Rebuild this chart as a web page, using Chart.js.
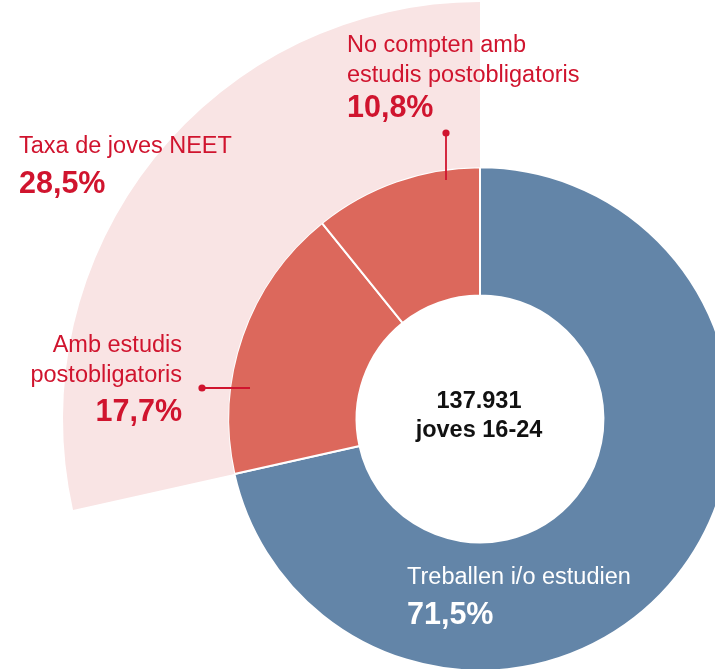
<!DOCTYPE html>
<html>
<head>
<meta charset="utf-8">
<script src="https://cdn.jsdelivr.net/npm/chart.js@4.4.0/dist/chart.umd.min.js"></script>
<style>
  html, body { margin: 0; padding: 0; width: 715px; height: 669px; overflow: hidden; background: #fff; }
  #wrap { position: absolute; left: 0; top: 0; width: 897px; height: 836px; }
</style>
</head>
<body>
<div id="wrap"><canvas id="neetChart" width="897" height="836"></canvas></div>
<script>
// data
const categories = ["Treballen i/o estudien", "Amb estudis postobligatoris", "No compten amb estudis postobligatoris"];
const shares = [71.5, 17.7, 10.8];
const neetShares = [71.5, 28.5];          // rest / taxa NEET (outer wedge)
const neetLabel = "Taxa de joves NEET";
const centerLines = ["137.931", "joves 16-24"];

const BLUE = "#6385A8";
const RED_SEG = "#DC685C";
const PINK = "#F9E4E4";
const RED_TXT = "#D0142E";
const FONT = "'Liberation Sans', Arial, sans-serif";

const pct = v => v.toFixed(1).replace(".", ",") + "%";

// annotation layout (page coordinates)
const notes = [
  { lines: ["No compten amb", "estudis postobligatoris"], value: pct(shares[2]), x: 347, y: [52, 82], vy: 117, align: "left", color: RED_TXT },
  { lines: [neetLabel], value: pct(neetShares[1]), x: 19, y: [153], vy: 193, align: "left", color: RED_TXT },
  { lines: ["Amb estudis", "postobligatoris"], value: pct(shares[1]), x: 182, y: [352, 382], vy: 421, align: "right", color: RED_TXT },
  { lines: [categories[0]], value: pct(shares[0]), x: 407, y: [584], vy: 624, align: "left", color: "#fff" }
];
const leaders = [
  { x1: 446, y1: 133, x2: 446, y2: 180 },
  { x1: 202, y1: 388, x2: 250, y2: 388 }
];

const annotations = {
  id: "annotations",
  afterDraw(chart) {
    const ctx = chart.ctx;
    ctx.save();

    // leader lines with dots
    ctx.strokeStyle = RED_TXT;
    ctx.fillStyle = RED_TXT;
    ctx.lineWidth = 1.8;
    leaders.forEach(l => {
      ctx.beginPath();
      ctx.moveTo(l.x1, l.y1);
      ctx.lineTo(l.x2, l.y2);
      ctx.stroke();
      ctx.beginPath();
      ctx.arc(l.x1, l.y1, 3.6, 0, Math.PI * 2);
      ctx.fill();
    });

    // labels
    ctx.textBaseline = "alphabetic";
    notes.forEach(n => {
      ctx.fillStyle = n.color;
      ctx.textAlign = n.align;
      ctx.font = "23.5px " + FONT;
      n.lines.forEach((t, i) => ctx.fillText(t, n.x, n.y[i]));
      ctx.font = "bold 30.5px " + FONT;
      ctx.fillText(n.value, n.x, n.vy);
    });

    // centre text
    const c = chart.getDatasetMeta(1).data[0];
    ctx.fillStyle = "#111";
    ctx.textAlign = "center";
    ctx.font = "bold 23.5px " + FONT;
    ctx.fillText(centerLines[0], c.x - 1, c.y - 11);
    ctx.fillText(centerLines[1], c.x - 1, c.y + 18);
    ctx.restore();
  }
};

new Chart(document.getElementById("neetChart"), {
  type: "doughnut",
  data: {
    labels: categories,
    datasets: [
      {
        label: neetLabel,
        data: neetShares,
        backgroundColor: ["rgba(0,0,0,0)", PINK],
        borderWidth: 0,
        weight: 165
      },
      {
        label: "Joves 16-24",
        data: shares,
        backgroundColor: [BLUE, RED_SEG, RED_SEG],
        borderColor: "#fff",
        borderWidth: 2,
        weight: 128
      }
    ]
  },
  options: {
    responsive: false,
    animation: false,
    events: [],
    cutout: "29.6%",
    // centre the doughnut at (480, 419) of the page; right and bottom are cropped
    layout: { padding: { left: 63, top: 2, right: 0, bottom: 0 } },
    plugins: {
      legend: { display: false },
      tooltip: { enabled: false }
    }
  },
  plugins: [annotations]
});
</script>
</body>
</html>
